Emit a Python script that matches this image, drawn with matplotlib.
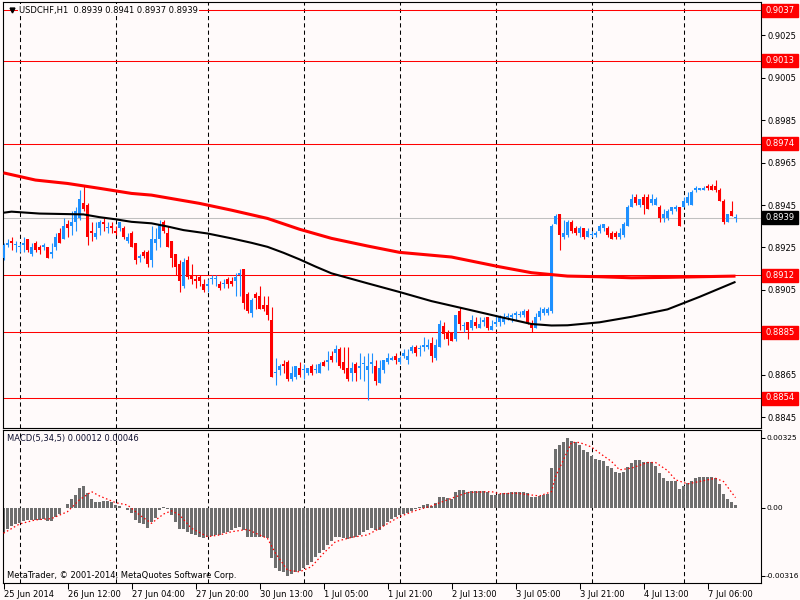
import numpy as np
import matplotlib
matplotlib.use("Agg")
import matplotlib.pyplot as plt
from matplotlib.patches import Rectangle
from matplotlib.transforms import blended_transform_factory

# ---------------- data (prices quoted x10000) ----------------
opens = np.array([
 8920,8926,8928,8926,8925,8926,8929,8922,8927,8925,
 8925,8925,8922,8925,8932,8929,8936,8935,8937,8939,
 8946,8945,8933,8930,8934,8937,8934,8935,8933,8934,
 8934,8928,8932,8927,8920,8923,8923,8919,8927,8929,
 8937,8932,8928,8922,8917,8907,8919,8912,8910,8911,
 8908,8907,8910,8910,8908,8908,8910,8909,8909,8912,
 8915,8903,8894,8903,8902,8898,8898,8891,8866,8867,
 8870,8871,8863,8864,8868,8867,8866,8869,8867,8866,
 8871,8871,8874,8875,8877,8871,8868,8866,8870,8868,
 8870,8867,8870,8869,8861,8867,8871,8872,8874,8871,
 8874,8872,8876,8878,8877,8878,8878,8880,8873,8878,
 8888,8885,8885,8882,8895,8888,8890,8887,8890,8887,
 8890,8892,8886,8889,8890,8890,8892,8892,8893,8893,
 8893,8895,8889,8887,8892,8894,8894,8895,8936,8941,
 8930,8931,8937,8934,8932,8934,8930,8931,8931,8933,
 8934,8934,8932,8932,8930,8931,8935,8944,8949,8945,
 8949,8949,8946,8945,8944,8939,8939,8942,8943,8944,
 8944,8946,8945,8952,8952,8952,8954,8954,8954,8952,
 8947,8937,8942,8939]) / 10000
highs = np.array([
 8927,8929,8930,8928,8927,8930,8929,8927,8928,8926,
 8927,8925,8927,8932,8934,8939,8938,8942,8944,8952,
 8954,8946,8937,8937,8938,8939,8937,8937,8935,8937,
 8935,8932,8933,8927,8922,8924,8924,8935,8934,8938,
 8938,8935,8928,8922,8919,8920,8921,8917,8912,8912,
 8910,8910,8912,8912,8909,8910,8911,8911,8913,8915,
 8915,8904,8901,8904,8907,8902,8902,8897,8873,8870,
 8872,8872,8869,8869,8871,8870,8868,8870,8870,8871,
 8872,8876,8876,8879,8878,8878,8878,8871,8871,8875,
 8874,8875,8875,8872,8872,8872,8875,8874,8875,8874,
 8877,8877,8879,8879,8879,8883,8882,8883,8882,8891,
 8890,8886,8885,8893,8897,8890,8890,8893,8892,8892,
 8892,8892,8891,8893,8893,8894,8894,8894,8895,8895,
 8896,8896,8891,8894,8897,8897,8897,8936,8941,8941,
 8938,8938,8938,8935,8935,8934,8934,8933,8933,8936,
 8936,8935,8933,8933,8934,8937,8945,8950,8950,8948,
 8950,8950,8950,8949,8945,8943,8943,8944,8945,8944,
 8949,8951,8952,8954,8953,8954,8955,8955,8957,8953,
 8948,8941,8947,8941]) / 10000
lows = np.array([
 8919,8925,8924,8923,8923,8923,8923,8921,8923,8922,
 8924,8920,8920,8924,8927,8929,8930,8931,8933,8938,
 8942,8926,8928,8929,8931,8933,8932,8932,8931,8933,
 8929,8927,8925,8917,8918,8920,8916,8916,8924,8925,
 8932,8925,8916,8912,8904,8906,8910,8908,8906,8907,
 8904,8904,8908,8907,8905,8906,8906,8907,8902,8902,
 8896,8894,8892,8896,8896,8895,8891,8864,8860,8865,
 8866,8862,8862,8863,8864,8863,8865,8865,8866,8866,
 8869,8867,8871,8871,8868,8866,8862,8862,8862,8863,
 8862,8853,8866,8860,8861,8866,8870,8872,8870,8870,
 8873,8870,8875,8874,8874,8876,8877,8871,8872,8878,
 8882,8879,8881,8881,8886,8885,8882,8886,8887,8887,
 8888,8886,8886,8888,8888,8889,8891,8890,8891,8892,
 8892,8889,8885,8887,8891,8893,8893,8894,8936,8924,
 8929,8930,8932,8931,8930,8929,8930,8930,8930,8932,
 8933,8930,8929,8929,8929,8930,8935,8944,8945,8944,
 8941,8943,8945,8945,8937,8937,8938,8941,8942,8935,
 8944,8945,8945,8951,8952,8952,8952,8952,8951,8947,
 8936,8937,8940,8937]) / 10000
closes = np.array([
 8926,8927,8927,8926,8925,8927,8924,8925,8924,8924,
 8926,8920,8923,8930,8927,8935,8934,8937,8942,8948,
 8943,8930,8932,8932,8937,8936,8934,8934,8932,8937,
 8930,8930,8925,8919,8921,8921,8917,8929,8929,8936,
 8933,8925,8920,8916,8909,8918,8911,8910,8909,8909,
 8905,8908,8910,8910,8906,8908,8908,8908,8911,8913,
 8899,8895,8900,8901,8896,8896,8893,8864,8866,8869,
 8869,8863,8866,8869,8865,8867,8868,8866,8867,8870,
 8869,8872,8872,8877,8869,8867,8863,8868,8866,8869,
 8870,8869,8871,8862,8868,8872,8873,8873,8872,8873,
 8875,8874,8878,8875,8877,8879,8879,8874,8879,8889,
 8884,8882,8881,8893,8889,8888,8886,8891,8888,8889,
 8891,8887,8888,8890,8892,8892,8892,8893,8894,8893,
 8895,8890,8887,8892,8895,8896,8896,8935,8940,8931,
 8932,8937,8933,8932,8934,8930,8933,8931,8932,8935,
 8936,8931,8929,8930,8932,8936,8944,8948,8946,8948,
 8945,8943,8948,8948,8939,8941,8942,8944,8944,8935,
 8947,8949,8951,8953,8953,8953,8953,8952,8952,8947,
 8937,8941,8940,8939]) / 10000

# moving averages (read at selected bars)
ma_red_bars = [0, 8, 16, 24, 32, 37, 49, 57, 66, 74, 82, 91, 99, 112, 124, 132, 141, 149, 157, 166, 174, 183]
ma_red_vals = np.array([8960.2, 8956.8, 8955.2, 8952.9, 8950.5, 8949.7, 8945.8, 8942.6, 8938.7, 8933.6, 8929.3,
                        8925.7, 8922.7, 8920.5, 8915.9, 8913.1, 8911.5, 8911.2, 8910.7, 8910.9, 8911.2, 8911.5]) / 10000
ma_blk_bars = [0, 2, 9, 20, 24, 28, 32, 37, 41, 45, 51, 57, 62, 66, 70, 74, 78, 82, 91, 99, 107, 116, 124,
               132, 137, 141, 149, 157, 166, 174, 183]
ma_blk_vals = np.array([8941.4, 8941.9, 8941.0, 8940.6, 8939.3, 8938.3, 8937.1, 8936.4, 8934.9, 8933.2, 8931.6,
                        8929.3, 8927.2, 8925.3, 8922.5, 8919.4, 8916.0, 8912.8, 8908.1, 8904.0, 8899.7, 8895.8,
                        8892.3, 8888.9, 8888.2, 8888.3, 8889.7, 8892.3, 8895.8, 8901.7, 8908.8]) / 10000

# MACD(5,34,5) histogram (x1e-5)
macd = np.array([
 -119,-101,-85,-76,-70,-62,-57,-57,-57,-57,
 -54,-60,-60,-45,-29,-2,17,39,59,90,
 102,67,40,28,28,29,29,28,14,9,
 -2,-11,-26,-57,-70,-76,-93,-65,-50,-11,
 5,-5,-34,-65,-101,-101,-112,-122,-129,-138,
 -143,-138,-132,-129,-126,-119,-112,-104,-96,-91,
 -104,-135,-135,-135,-135,-138,-143,-236,-282,-293,
 -298,-316,-310,-301,-293,-282,-264,-251,-228,-212,
 -197,-174,-153,-135,-135,-143,-147,-143,-135,-127,
 -112,-104,-96,-104,-104,-85,-65,-53,-42,-34,
 -29,-23,-14,-8,2,12,17,8,23,48,
 51,43,39,74,82,82,73,79,78,78,
 78,70,59,59,64,67,67,70,74,74,
 73,67,47,47,54,57,64,183,273,291,
 302,322,310,302,291,268,256,240,225,222,
 214,194,183,167,160,167,188,209,219,222,
 211,211,211,191,160,136,124,121,121,85,
 101,113,124,136,141,141,141,141,136,110,
 64,40,28,12]) / 100000
signal_bars = [0, 4, 8, 12, 16, 19, 22, 24, 28, 31, 34, 37, 40, 42, 44, 47, 51, 54, 57, 61, 64, 66, 68, 71,
               74, 77, 80, 83, 87, 91, 94, 99, 103, 107, 112, 116, 122, 124, 128, 134, 137, 138, 140, 142,
               144, 147, 149, 152, 154, 157, 161, 163, 166, 168, 171, 174, 178, 180, 183]
signal_vals = np.array([-119, -76, -57, -51, -19, 36, 74, 54, 23, 12, -34, -73, -30, -15, -34, -96, -135, -127,
                        -112, -101, -127, -143, -212, -290, -298, -274, -212, -158, -138, -127, -96, -42, -14,
                        8, 43, 70, 74, 64, 67, 54, 74, 144, 222, 302, 302, 281, 253, 214, 175, 183, 209, 209,
                        172, 129, 110, 121, 136, 121, 46]) / 100000

levels = [0.9037, 0.9013, 0.8974, 0.8912, 0.8885, 0.8854]
bid = 0.8939
price_ticks = [0.9025, 0.9005, 0.8985, 0.8965, 0.8945, 0.8925, 0.8905, 0.8885, 0.8865, 0.8845]
macd_ticks = [0.00325, 0.0, -0.00316]
macd_tick_labels = ["0.00325", "0.00", "-0.00316"]
day_start_bars = [4, 28, 51, 75, 99, 123, 147, 170]
time_tick_bars = [0, 16, 32, 48, 64, 80, 96, 112, 128, 144, 160, 176]
time_labels = ["25 Jun 2014", "26 Jun 12:00", "27 Jun 04:00", "27 Jun 20:00", "30 Jun 13:00", "1 Jul 05:00",
               "1 Jul 21:00", "2 Jul 13:00", "3 Jul 05:00", "3 Jul 21:00", "4 Jul 13:00", "7 Jul 06:00"]
header = "USDCHF,H1  0.8939 0.8941 0.8937 0.8939"
macd_title = "MACD(5,34,5) 0.00012 0.00046"
copyright_txt = "MetaTrader, \u00a9 2001-2014, MetaQuotes Software Corp."

# ---------------- figure ----------------
BG = "#FFFAFA"
plt.rcParams['font.family'] = ['DejaVu Sans']
FS = 6.0
W, H = 800, 600
fig = plt.figure(figsize=(8, 6), dpi=100, facecolor=BG)


def frect(x0, y0, x1, y1):
    return [x0 / W, 1 - y1 / H, (x1 - x0) / W, (y1 - y0) / H]


ax = fig.add_axes(frect(2.5, 2, 760.5, 428), facecolor=BG)
axm = fig.add_axes(frect(2.5, 430, 760.5, 582.5), facecolor=BG, sharex=ax)

PX = 1 / 21200.0  # price per pixel
ax.set_xlim(-0.25, 189.25)
ax.set_ylim(0.8854 - 30 * PX, 0.8854 + 396 * PX)
axm.set_ylim(-0.003474, 0.003598)

for a in (ax, axm):
    for s in a.spines.values():
        s.set_color("black")
        s.set_linewidth(0.8)
    for b in day_start_bars:
        a.axvline(b, color="black", lw=0.75, ls=(0, (4, 3)), zorder=1)

# horizontal lines
for lv in levels:
    ax.axhline(lv, color="#FF0000", lw=0.75, zorder=1.2)
ax.axhline(bid, color="#C0C0C0", lw=0.75, zorder=1.1)

# candles
x = np.arange(len(opens))
bull = closes >= opens
cols = np.where(bull, "#1E90FF", "#FF0000")
ax.vlines(x, lows, highs, colors=cols, lw=0.8, zorder=3)
body_lo = np.minimum(opens, closes)
body_h = np.maximum(np.abs(closes - opens), 1.0 * PX)
ax.bar(x, body_h, bottom=body_lo, width=0.75, color=cols, lw=0, zorder=3)

# moving averages
ax.plot(ma_red_bars, ma_red_vals, color="#FF0000", lw=2.2, zorder=4, solid_capstyle="butt")
ax.plot(ma_blk_bars, ma_blk_vals, color="black", lw=1.5, zorder=4, solid_capstyle="butt")

# right axis
ax.yaxis.tick_right()
ax.set_yticks(price_ticks)
ax.set_yticklabels(["" if abs(t - 0.8885) < 1e-6 else f"{t:.4f}" for t in price_ticks])
ax.tick_params(axis="y", direction="out", length=3, width=0.75, pad=2, labelsize=FS, colors="black")
ax.tick_params(axis="x", bottom=False, labelbottom=False)

trans = blended_transform_factory(ax.transAxes, ax.transData)
bw = 36 / 758.0
bh = 13 * PX
for lv in levels:
    ax.add_patch(Rectangle((1 + 1.5 / 758, lv - bh / 2), bw, bh, transform=trans, color="#FF0000",
                           clip_on=False, zorder=6))
    ax.text(1 + 1.5 / 758 + bw / 2, lv, f"{lv:.4f}", transform=trans, color="white", fontsize=FS,
            ha="center", va="center", clip_on=False, zorder=7)
ax.add_patch(Rectangle((1 + 1.5 / 758, bid - bh / 2), bw, bh, transform=trans, color="black",
                       clip_on=False, zorder=6))
ax.text(1 + 1.5 / 758 + bw / 2, bid, f"{bid:.4f}", transform=trans, color="white", fontsize=FS,
        ha="center", va="center", clip_on=False, zorder=7)

# header
ax.text(16.5 / 758, 1 - 8 / 426, header, transform=ax.transAxes, fontsize=FS, color="black",
        ha="left", va="center", zorder=8,
        bbox=dict(boxstyle="square,pad=0.15", fc=BG, ec="none"))
ax.plot([9.5 / 758], [1 - 8 / 426], marker="v", color="black", ms=3.5, transform=ax.transAxes,
        zorder=9, clip_on=False)

# MACD panel
axm.bar(x, macd, width=0.75, color="#6E6E6E", lw=0, zorder=2)
axm.plot(signal_bars, signal_vals, color="#FF0000", lw=0.9, ls=(0, (1.2, 2.0)), zorder=3)
axm.yaxis.tick_right()
axm.set_yticks(macd_ticks)
axm.set_yticklabels(macd_tick_labels)
axm.tick_params(axis="y", direction="out", length=3, width=0.75, pad=1, labelsize=5.4, colors="black")
axm.set_xticks(time_tick_bars)
axm.set_xticklabels(time_labels, ha="left")
axm.tick_params(axis="x", direction="out", length=4, width=0.75, pad=1.5, labelsize=FS, colors="black")
axm.text(4.5 / 758, 1 - 9 / 152.5, macd_title, transform=axm.transAxes, fontsize=FS, color="#101030",
         ha="left", va="center")
axm.text(4.5 / 758, 7 / 152.5, copyright_txt, transform=axm.transAxes, fontsize=FS, color="black",
         ha="left", va="center")

fig.savefig("out.png", dpi=100, facecolor=BG)
